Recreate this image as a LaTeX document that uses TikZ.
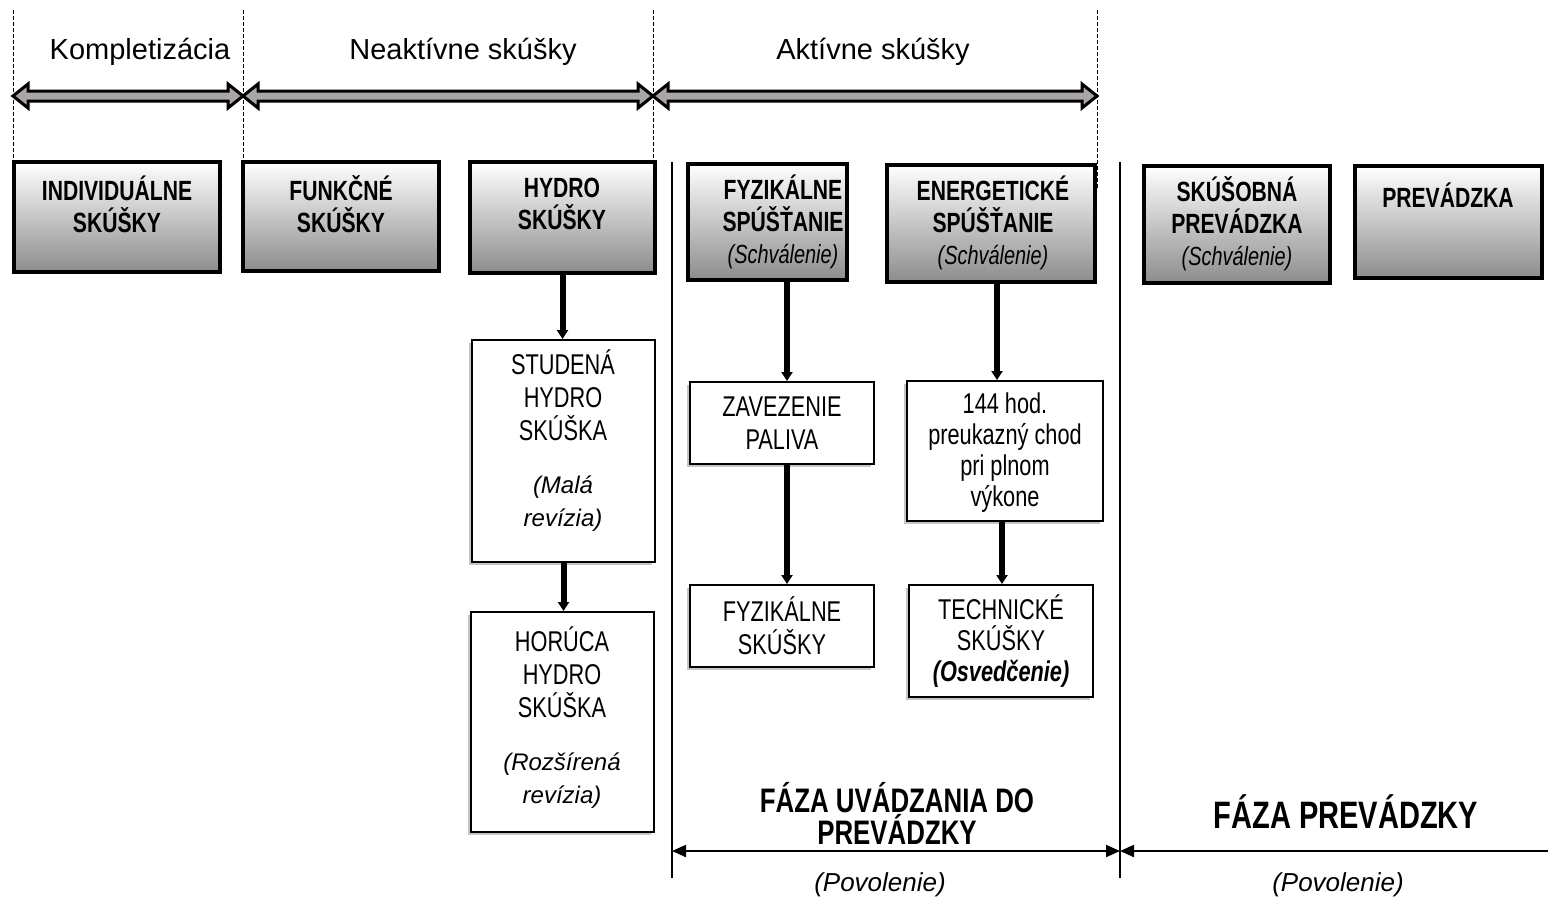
\documentclass[tikz,border=0pt]{standalone}
\usepackage{fontspec}
\setmainfont{Liberation Sans}
\newfontfamily\narrowsf[FakeStretch=0.76]{Liberation Sans}
\usetikzlibrary{arrows.meta,shadows,fit}

\definecolor{arrowgray}{RGB}{170,166,166}
\newcommand\remark{\normalfont\itshape\fontsize{12}{16.5}\selectfont}

\tikzset{
	graybox/.style={draw, line width=2pt, top color=white, bottom color=black!45, inner sep=0pt},
	whitebox/.style={draw, line width=1pt, fill=white, inner sep=0pt,
		drop shadow={shadow xshift=-1.5pt, shadow yshift=-1.5pt, fill=black!45, opacity=0.5}},
	btxt/.style={align=center, inner sep=0pt, font=\narrowsf\bfseries\fontsize{13.9}{16}\selectfont},
	wtxt/.style={align=center, inner sep=0pt, font=\narrowsf\fontsize{14.3}{16.5}\selectfont},
	conn/.style={line width=3pt, -{Triangle[width=5.5pt,length=4.5pt]}},
	phase/.style={line width=1pt, {Triangle[width=6pt,length=7pt]}-{Triangle[width=6pt,length=7pt]}},
}

\begin{document}
\begin{tikzpicture}[x=0.5pt,y=-0.5pt]
\useasboundingbox (0,0) rectangle (1550,900);

\foreach \x/\yb in {13/185,243/162,653/162,1097/190}
{
	\draw[line width=0.4pt, dash pattern=on 2pt off 1pt] (\x,10)--(\x,\yb);
}

\foreach \xa/\xb/\xt/\txt in {13/243/140/Kompletizácia,243/653/463/Neaktívne skúšky,653/1097/873/Aktívne skúšky}
{
	\draw[line width=1.5pt, fill=arrowgray] (\xa,96)--(\xa+15,84)--(\xa+15,91)--(\xb-15,91)--(\xb-15,84)
		--(\xb,96)--(\xb-15,108)--(\xb-15,101)--(\xa+15,101)--(\xa+15,108)--cycle;
	\node[font=\fontsize{14.5}{17}\selectfont] (head\xa) at (\xt,52){\txt};
}

% horne boxy
\node[graybox, fit={(14,162) (220,272)}] (indiv){};
\node[btxt] (indivtx) at (117,204){INDIVIDUÁLNE\\SKÚŠKY};
\node[graybox, fit={(243,162) (439,271)}] (funk){};
\node[btxt] (funktx) at (341,204){FUNKČNÉ\\SKÚŠKY};
\node[graybox, fit={(470,162) (655,273)}] (hydro){};
\node[btxt] (hydrotx) at (562,204){HYDRO\\SKÚŠKY};
\node[graybox, fit={(688,164) (847,280)}] (fyzsp){};
\node[btxt] (fyzsptx) at (783,222){FYZIKÁLNE\\SPÚŠŤANIE\\{\mdseries\itshape\fontsize{13.1}{16}\selectfont (Schválenie)}};
\node[graybox, fit={(887,165) (1095,282)}] (energ){};
\node[btxt] (energtx) at (993,223){ENERGETICKÉ\\SPÚŠŤANIE\\{\mdseries\itshape\fontsize{13.1}{16}\selectfont (Schválenie)}};
\node[graybox, fit={(1144,166) (1330,283)}] (skusob){};
\node[btxt] (skusobtx) at (1237,224){SKÚŠOBNÁ\\PREVÁDZKA\\{\mdseries\itshape\fontsize{13.1}{16}\selectfont (Schválenie)}};
\node[graybox, fit={(1355,166) (1542,278)}] (prev){};
\node[btxt] (prevtx) at (1448,195){PREVÁDZKA};

% biele boxy
\node[whitebox, fit={(472,340) (655,562)}] (stud){};
\node[wtxt] (studtx) at (563,441){STUDENÁ\\HYDRO\\SKÚŠKA\\[10pt]\remark (Malá\\\remark revízia)};
\node[whitebox, fit={(471,612) (654,832)}] (horuc){};
\node[wtxt] (hoructx) at (562,718){HORÚCA\\HYDRO\\SKÚŠKA\\[10pt]\remark (Rozšírená\\\remark revízia)};
\node[whitebox, fit={(690,382) (874,464)}] (zav){};
\node[wtxt] (zavtx) at (782,423){ZAVEZENIE\\PALIVA};
\node[whitebox, fit={(690,585) (874,667)}] (fyzsk){};
\node[wtxt] (fyzsktx) at (782,626){FYZIKÁLNE\\SKÚŠKY};
\node[whitebox, fit={(907,381) (1103,521)}] (chod){};
\node[wtxt, font=\narrowsf\fontsize{14.3}{15.5}\selectfont] (chodtx) at (1005,453){144 hod.\\preukazný chod\\pri plnom\\výkone};
\node[whitebox, fit={(909,585) (1093,697)}] (tech){};
\node[wtxt, font=\narrowsf\fontsize{14.3}{15.5}\selectfont] (techtx) at (1001,641){TECHNICKÉ\\SKÚŠKY\\{\bfseries\itshape (Osvedčenie)}};

% spojnice
\draw[conn] (hydro.south)--(hydro.south |- stud.north);
\draw[conn] (stud.south)--(stud.south |- horuc.north);
\draw[conn] ([xshift=2.5pt]zav.north |- fyzsp.south)--([xshift=2.5pt]zav.north);
\draw[conn] ([xshift=2.5pt]zav.south)--([xshift=2.5pt]fyzsk.north);
\draw[conn] ([xshift=-4pt]chod.north |- energ.south)--([xshift=-4pt]chod.north);
\draw[conn] ([xshift=-1.5pt]chod.south)--([xshift=-1.5pt]chod.south |- tech.north);

% fazy
\coordinate (lineA) at (672,851);
\coordinate (lineB) at (1120,851);
\coordinate (rend) at (1548,851);
\draw[line width=0.8pt] (672,162)--(672,878);
\draw[line width=0.8pt] (1120,162)--(1120,878);
\draw[phase] (lineA)--(lineB);
\draw[line width=1pt, {Triangle[width=6pt,length=7pt]}-] (lineB)--(rend);
\node[align=center, font=\narrowsf\bfseries\fontsize{17}{16}\selectfont] (fazauv) at (897,813){FÁZA UVÁDZANIA DO\\PREVÁDZKY};
\node[font=\narrowsf\bfseries\fontsize{19.1}{19}\selectfont] (fazapr) at (1346,812){FÁZA PREVÁDZKY};
\node[font=\itshape\fontsize{13}{15}\selectfont] (pov1) at (880,885){(Povolenie)};
\node[font=\itshape\fontsize{13}{15}\selectfont] (pov2) at (1338,885){(Povolenie)};

\end{tikzpicture}
\end{document}
